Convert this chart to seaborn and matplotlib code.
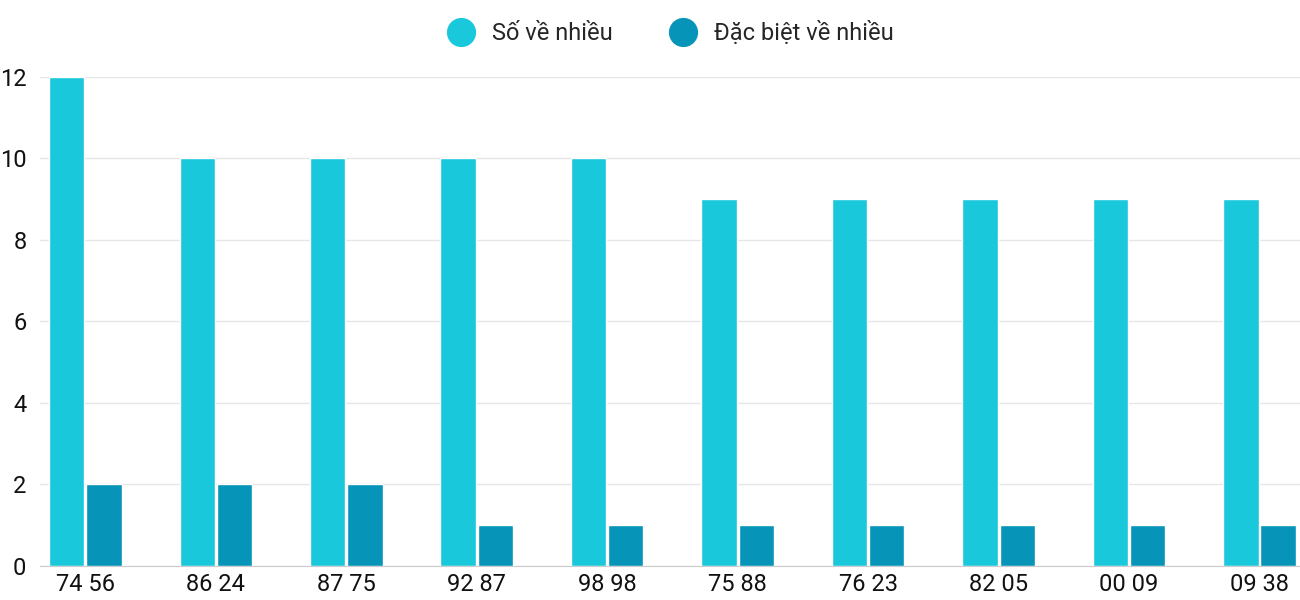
import matplotlib
matplotlib.use('Agg')
from matplotlib import pyplot as plt
import pandas as pd
import seaborn as sns

# dữ liệu
pairs = ['74 56', '86 24', '87 75', '92 87', '98 98', '75 88', '76 23', '82 05', '00 09', '09 38']
so_ve_nhieu = [12, 10, 10, 10, 10, 9, 9, 9, 9, 9]
dac_biet = [2, 2, 2, 1, 1, 1, 1, 1, 1, 1]
series = ['Số về nhiều', 'Đặc biệt về nhiều']
colors = ['#1AC8DB', '#0694B8']

df = pd.DataFrame({
    'pair': pairs * 2,
    'value': so_ve_nhieu + dac_biet,
    'series': [series[0]] * len(pairs) + [series[1]] * len(pairs),
})

sns.set_style('white')
plt.rcParams['font.family'] = ['Roboto', 'DejaVu Sans']

fig = plt.figure(figsize=(13, 6), dpi=100)
ax = fig.add_axes([0.031, 0.057, 0.969, 0.815])
sns.barplot(data=df, x='pair', y='value', hue='series', palette=colors,
            width=0.57, gap=0.05, saturation=1, ax=ax, legend=True)

ax.set_xlim(-0.345, 9.31)
ax.set_ylim(0, 12)
ax.set_yticks(range(0, 13, 2))
ax.yaxis.grid(True, color='#E6E6E6', linewidth=1)
ax.set_axisbelow(True)
for s in ax.spines.values():
    s.set_visible(False)
ax.spines['bottom'].set_visible(True)
ax.spines['bottom'].set_color('#CCCCCC')
ax.set_xlabel('')
ax.set_ylabel('')
ax.tick_params(axis='x', labelsize=17, length=0, pad=5, colors='#111111')
ax.tick_params(axis='y', labelsize=17, length=0, pad=10, colors='#111111')

handles = [plt.Line2D([], [], marker='o', linestyle='', markersize=20, color=c) for c in colors]
fig.legend(handles, series, loc='upper center', bbox_to_anchor=(0.512, 1.0), ncol=2,
           frameon=False, fontsize=17, handletextpad=0.3, columnspacing=2.0)
ax.get_legend().remove()

fig.savefig('out.png')
